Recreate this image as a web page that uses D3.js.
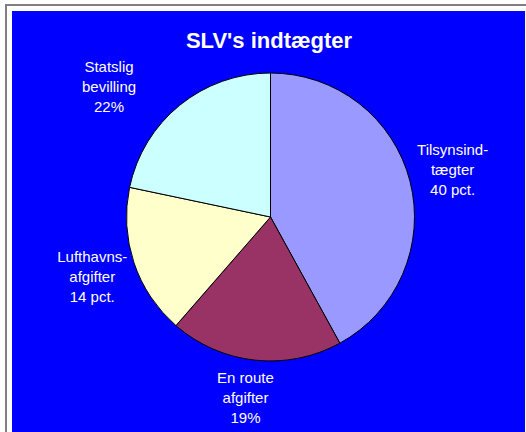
<!DOCTYPE html>
<html>
<head>
<meta charset="utf-8">
<script src="https://cdn.jsdelivr.net/npm/d3@7"></script>
<style>
  body { margin: 0; background: #fff; }
  svg text { font-family: "Liberation Sans", Arial, sans-serif; fill: #fff; }
</style>
</head>
<body>
<script>
// data
var categories = ["Tilsynsindtægter", "En route afgifter", "Lufthavnsafgifter", "Statslig bevilling"];
var shares = [42, 19.4, 16.9, 21.7];
var labelLines = [
  ["Tilsynsind-", "tægter", "40 pct."],
  ["En route", "afgifter", "19%"],
  ["Lufthavns-", "afgifter", "14 pct."],
  ["Statslig", "bevilling", "22%"]
];
var colors = ["#9999ff", "#993366", "#ffffcc", "#ccffff"];

var width = 526, height = 432;
var cx = 270.5, cy = 217, radius = 144, labelRadius = 188;

// hand nudges for labels Excel moved away from the slice middle
var nudge = {"En route afgifter": [-5, -6], "Statslig bevilling": [-43, 16]};

var svg = d3.select("body").append("svg")
    .attr("width", width)
    .attr("height", height);

// frame
svg.append("line").attr("x1", 5).attr("x2", 526).attr("y1", 5).attr("y2", 5)
    .attr("stroke", "#808080").attr("stroke-width", 2);
svg.append("line").attr("x1", 6).attr("x2", 6).attr("y1", 5).attr("y2", 432)
    .attr("stroke", "#808080").attr("stroke-width", 2);
svg.append("rect")
    .attr("x", 12).attr("y", 11)
    .attr("width", 513).attr("height", 421)
    .attr("fill", "#0000ff");

svg.append("text")
    .attr("x", 269).attr("y", 48)
    .attr("text-anchor", "middle")
    .style("font-size", "22px")
    .style("font-weight", "bold")
    .text("SLV's indtægter");

var pie = d3.pie().sort(null).value(function(d) { return d; });
var arcs = pie(shares);

var arc = d3.arc().innerRadius(0).outerRadius(radius);
var labelArc = d3.arc().innerRadius(labelRadius).outerRadius(labelRadius);

var g = svg.append("g").attr("transform", "translate(" + cx + "," + cy + ")");

g.selectAll("path")
    .data(arcs)
  .enter().append("path")
    .attr("d", arc)
    .attr("fill", function(d, i) { return colors[i]; })
    .attr("stroke", "#000")
    .attr("stroke-width", 1);

var labels = g.selectAll(".label")
    .data(arcs)
  .enter().append("text")
    .attr("class", "label")
    .attr("text-anchor", "middle")
    .style("font-size", "15px")
    .attr("transform", function(d, i) {
      var c = labelArc.centroid(d);
      var n = nudge[categories[i]] || [0, 0];
      return "translate(" + (c[0] + n[0]) + "," + (c[1] + n[1]) + ")";
    });

labels.selectAll("tspan")
    .data(function(d, i) { return labelLines[i]; })
  .enter().append("tspan")
    .attr("x", 0)
    .attr("y", function(d, j) { return 5 + (j - 1) * 20; })
    .text(function(d) { return d; });
</script>
</body>
</html>
